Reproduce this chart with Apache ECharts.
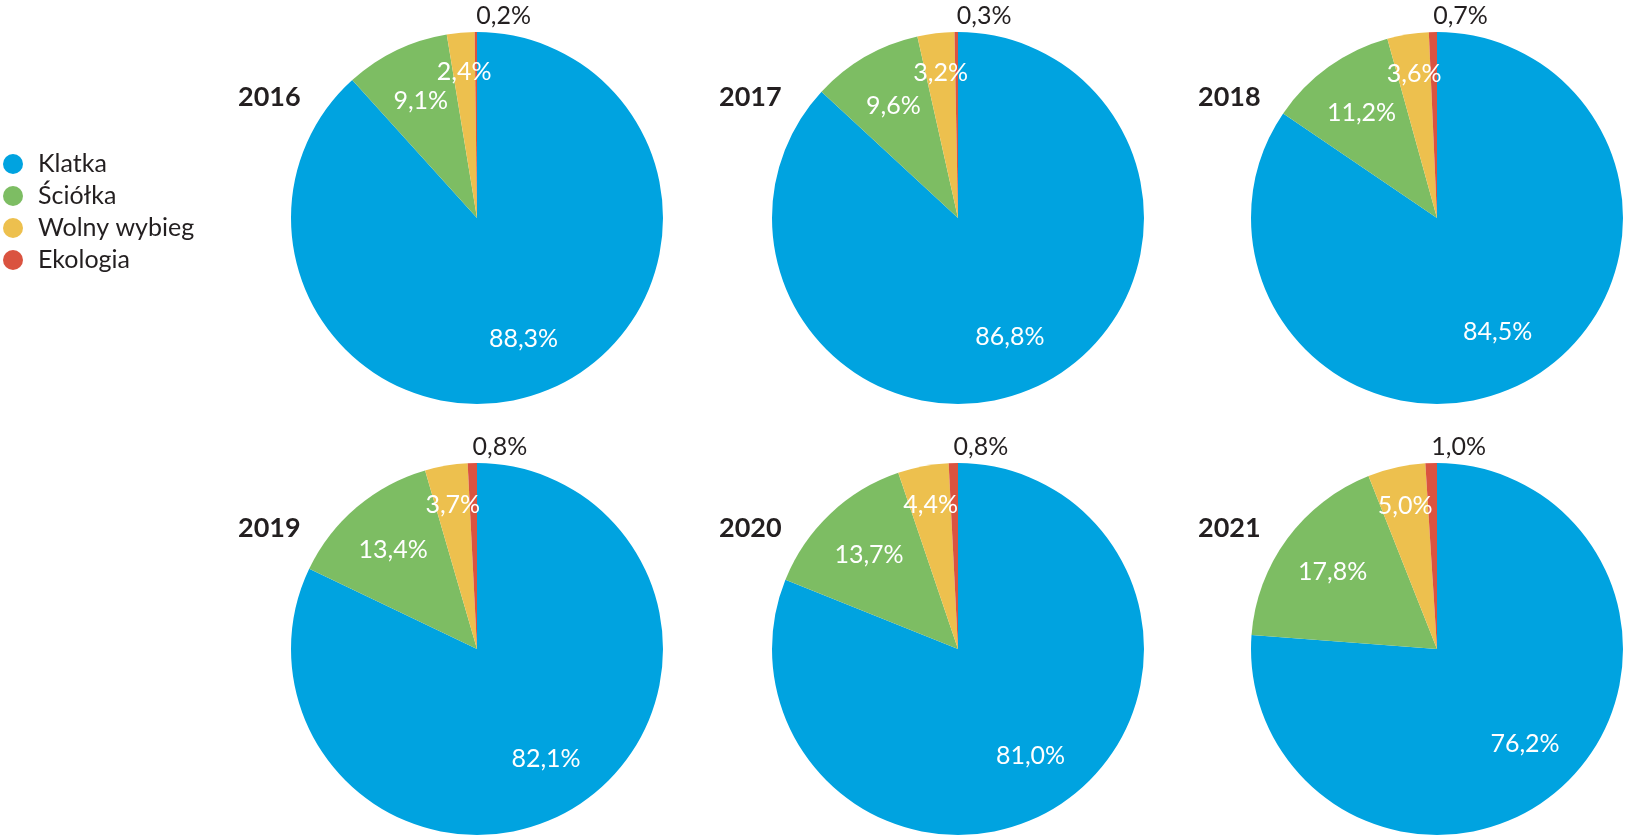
<!DOCTYPE html>
<html><head><meta charset="utf-8">
<script src="https://cdn.jsdelivr.net/npm/echarts@6/dist/echarts.min.js"></script>
<style>html,body{margin:0;padding:0;background:#fff}#c{width:1630px;height:840px}</style>
</head><body><div id="c"></div>
<script>
const years = ['2016', '2017', '2018', '2019', '2020', '2021'];
const categories = ['Klatka', 'Ściółka', 'Wolny wybieg', 'Ekologia'];
const klatka = [88.3, 86.8, 84.5, 82.1, 81.0, 76.2];
const sciolka = [9.1, 9.6, 11.2, 13.4, 13.7, 17.8];
const wolny = [2.4, 3.2, 3.6, 3.7, 4.4, 5.0];
const ekologia = [0.2, 0.3, 0.7, 0.8, 0.8, 1.0];

const colors = ['#00a3e0', '#7dbd63', '#edc04e', '#da5340'];
const FONT = 'Lato, "Open Sans", sans-serif';
const R = 186;
const colX = [477, 958, 1437];
const rowY = [218, 649];

const fmt = p => Number(p.value).toFixed(1).replace('.', ',') + '%';

function yearData(i) {
  return [klatka[i], sciolka[i], wolny[i], ekologia[i]].map((v, k) => ({ name: categories[k], value: v }));
}

const series = [];
const titles = [];
years.forEach((yr, i) => {
  const cx = colX[i % 3], cy = rowY[Math.floor(i / 3)];
  const center = [cx, cy];
  const base = {
    type: 'pie', center, startAngle: 90, clockwise: true, avoidLabelOverlap: false,
    labelLine: { show: false }, emphasis: { disabled: true }, animation: false
  };
  series.push(Object.assign({}, base, {
    radius: [0, R],
    data: yearData(i).map((d, k) => Object.assign(d, { itemStyle: { color: colors[k] } })),
    label: { show: false }
  }));
  const layer = (r0, r1, shown, color, offset) => Object.assign({}, base, {
    radius: [r0, r1], silent: true,
    itemStyle: { color: 'rgba(0,0,0,0)' },
    data: yearData(i).map((d, k) => Object.assign(d, { label: { show: shown.includes(k) } })),
    label: { position: 'inside', formatter: fmt, color, fontFamily: FONT, fontSize: 25, offset: offset || [0, 0] }
  });
  series.push(layer(0, R * 1.36, [0, 1], '#ffffff'));
  series.push(layer(0, R * 1.54, [2], '#ffffff'));
  series.push(layer(R, R + 27, [3], '#231f20', [28, 0]));
  titles.push({
    text: yr, left: cx - 239, top: cy - 121 - 16, padding: 0,
    textStyle: { fontFamily: FONT, fontWeight: 'bold', fontSize: 27, lineHeight: 32, color: '#231f20' }
  });
});

const chart = echarts.init(document.getElementById('c'));
chart.setOption({
  backgroundColor: '#ffffff',
  title: titles,
  legend: {
    orient: 'vertical', left: 3, top: 151, icon: 'circle', itemWidth: 20, itemHeight: 20, itemGap: 6,
    padding: 0, selectedMode: false,
    data: categories.map((c, k) => ({ name: c, itemStyle: { color: colors[k] } })),
    textStyle: { fontFamily: FONT, fontSize: 25, lineHeight: 26, color: '#231f20', padding: [0, 0, 0, 10] }
  },
  series
});
</script>
</body></html>
